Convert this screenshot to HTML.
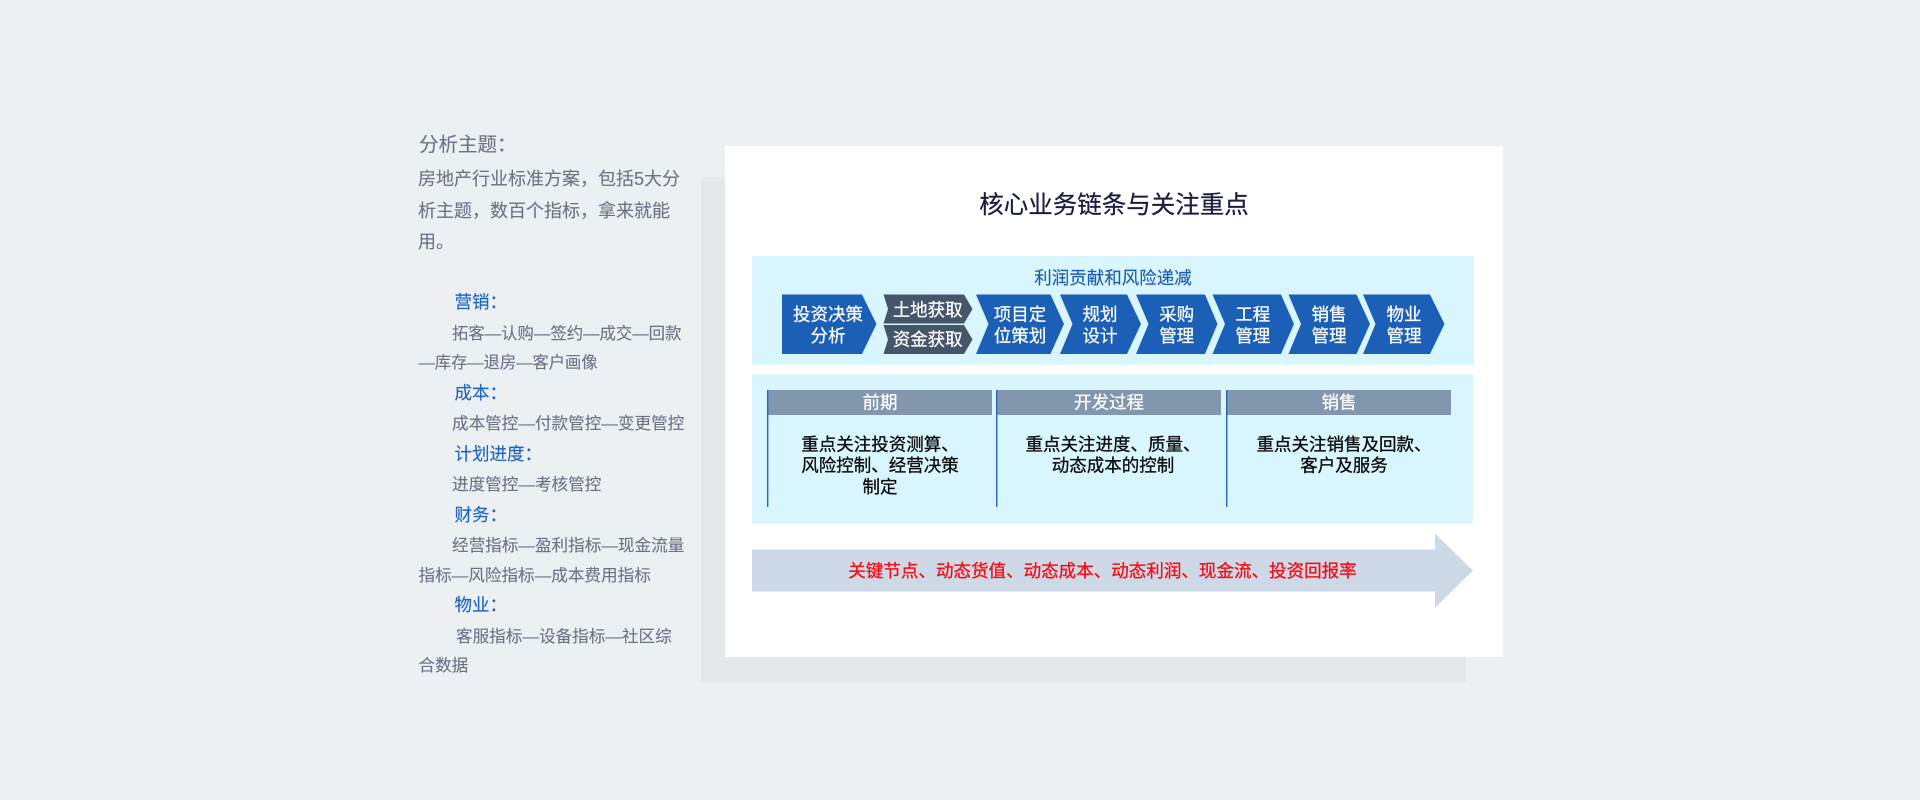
<!DOCTYPE html>
<html lang="zh-CN"><head><meta charset="utf-8"><title>核心业务链条与关注重点</title>
<style>
html,body{margin:0;padding:0;background:#ecf0f3;width:1920px;height:800px;overflow:hidden}
svg{display:block}
text{font-family:"Liberation Sans","Noto Sans CJK SC",sans-serif}
.g{fill:#6c7386;font-size:16.6px;stroke:#6c7386;stroke-width:.12px}
.gb{fill:#6c7386;font-size:18px;stroke:#6c7386;stroke-width:.12px}
.h{fill:#2065c2;font-size:17.5px;stroke:#2065c2;stroke-width:.15px}
.c{font-family:"Noto Sans CJK TC",sans-serif}
.w{fill:#fff;font-size:17.5px;text-anchor:middle;stroke:#fff;stroke-width:.25px}
.k{fill:#0b0b0b;font-size:17.5px;text-anchor:middle;stroke:#0b0b0b;stroke-width:.3px}
</style></head><body>
<svg width="1920" height="800" viewBox="0 0 1920 800" xmlns="http://www.w3.org/2000/svg">
<rect width="1920" height="800" fill="#ecf0f3"/>
<rect x="701" y="177" width="765" height="505" fill="#e4e8eb"/>
<rect x="725" y="146" width="778" height="511" fill="#fff"/>

<!-- left text -->
<text x="419" y="151" font-size="19.5" fill="#6c7386" stroke="#6c7386" stroke-width=".12">分析主题<tspan class="c">：</tspan></text>
<text class="gb" x="418" y="185">房地产行业标准方案，包括5大分</text>
<text class="gb" x="418" y="217">析主题，数百个指标，拿来就能</text>
<text class="gb" x="418" y="248">用。</text>
<text class="h" x="454.5" y="308">营销<tspan class="c">：</tspan></text>
<text class="g" x="452" y="339" style="font-size:16.4px">拓客—认购—签约—成交—回款</text>
<text class="g" x="418.5" y="368" style="font-size:16.3px">—库存—退房—客户画像</text>
<text class="h" x="454.5" y="399">成本<tspan class="c">：</tspan></text>
<text class="g" x="452" y="429">成本管控—付款管控—变更管控</text>
<text class="h" x="454.5" y="460">计划进度<tspan class="c">：</tspan></text>
<text class="g" x="452" y="490">进度管控—考核管控</text>
<text class="h" x="454.5" y="521">财务<tspan class="c">：</tspan></text>
<text class="g" x="452" y="551">经营指标—盈利指标—现金流量</text>
<text class="g" x="418.5" y="581">指标—风险指标—成本费用指标</text>
<text class="h" x="454.5" y="611">物业<tspan class="c">：</tspan></text>
<text class="g" x="456" y="642">客服指标—设备指标—社区综</text>
<text class="g" x="418.5" y="671">合数据</text>

<!-- title -->
<text x="1114" y="213" font-size="24.5" fill="#1a1f3d" stroke="#1a1f3d" stroke-width=".25" text-anchor="middle">核心业务链条与关注重点</text>

<!-- band 1 -->
<rect x="752" y="256" width="722" height="109" fill="#d9f6ff"/>
<text x="1113" y="284" font-size="17.5" fill="#1d5cae" stroke="#1d5cae" stroke-width=".15" text-anchor="middle">利润贡献和风险递减</text>
<g fill="#1c5fb7">
<polygon points="782,294.5 862,294.5 876.5,324 862,354 782,354"/>
<polygon points="976,294.5 1050.5,294.5 1064,324 1050.5,354 976,354 988.5,324"/>
<polygon points="1060,294.5 1127,294.5 1141,324 1127,354 1060,354 1072.5,324"/>
<polygon points="1136,294.5 1205,294.5 1217.5,324 1205,354 1136,354 1148.5,324"/>
<polygon points="1212.5,294.5 1281,294.5 1294,324 1281,354 1212.5,354 1225,324"/>
<polygon points="1288.5,294.5 1356.5,294.5 1370,324 1356.5,354 1288.5,354 1301,324"/>
<polygon points="1363,294.5 1430,294.5 1444.5,324 1430,354 1363,354 1375.5,324"/>
</g>
<g fill="#45566b">
<polygon points="883.5,294.5 964,294.5 972.5,309 964,323.5 883.5,323.5 888,309"/>
<polygon points="883.5,325 964,325 972.5,339.5 964,354 883.5,354 888,339.5"/>
</g>
<text class="w" x="828" y="320.5">投资决策</text><text class="w" x="828" y="342">分析</text>
<text class="w" x="927.7" y="316">土地获取</text><text class="w" x="927.7" y="345.5">资金获取</text>
<text class="w" x="1020" y="320.5">项目定</text><text class="w" x="1020" y="342">位策划</text>
<text class="w" x="1100" y="320.5">规划</text><text class="w" x="1100" y="342">设计</text>
<text class="w" x="1176.7" y="320.5">采购</text><text class="w" x="1176.7" y="342">管理</text>
<text class="w" x="1252.7" y="320.5">工程</text><text class="w" x="1252.7" y="342">管理</text>
<text class="w" x="1329" y="320.5">销售</text><text class="w" x="1329" y="342">管理</text>
<text class="w" x="1404" y="320.5">物业</text><text class="w" x="1404" y="342">管理</text>

<!-- band 2 -->
<rect x="752" y="374.5" width="721" height="149" fill="#d9f6ff"/>
<g fill="#8296ae">
<rect x="767" y="390" width="225" height="25"/>
<rect x="996" y="390" width="225" height="25"/>
<rect x="1226" y="390" width="225" height="25"/>
</g>
<g fill="#2a66b8">
<rect x="767" y="390" width="1.4" height="117"/>
<rect x="996" y="390" width="1.4" height="117"/>
<rect x="1226" y="390" width="1.4" height="117"/>
</g>
<text class="w" x="880" y="408.5">前期</text>
<text class="w" x="1109" y="408.5">开发过程</text>
<text class="w" x="1339" y="408.5">销售</text>
<text class="k" x="880" y="450.5">重点关注投资测算、</text>
<text class="k" x="880" y="471.5">风险控制、经营决策</text>
<text class="k" x="880" y="493">制定</text>
<text class="k" x="1113" y="450.5">重点关注进度、质量、</text>
<text class="k" x="1113" y="471.5">动态成本的控制</text>
<text class="k" x="1344" y="450.5">重点关注销售及回款、</text>
<text class="k" x="1344" y="471.5">客户及服务</text>

<!-- arrow -->
<polygon points="752,549.5 1435,549.5 1435,533.5 1473,570.5 1435,608 1435,591.5 752,591.5" fill="#cdd9e7"/>
<text x="1102.5" y="577" font-size="17.55" fill="#fa0a14" stroke="#fa0a14" stroke-width=".3" text-anchor="middle">关键节点、动态货值、动态成本、动态利润、现金流、投资回报率</text>
</svg>
</body></html>
